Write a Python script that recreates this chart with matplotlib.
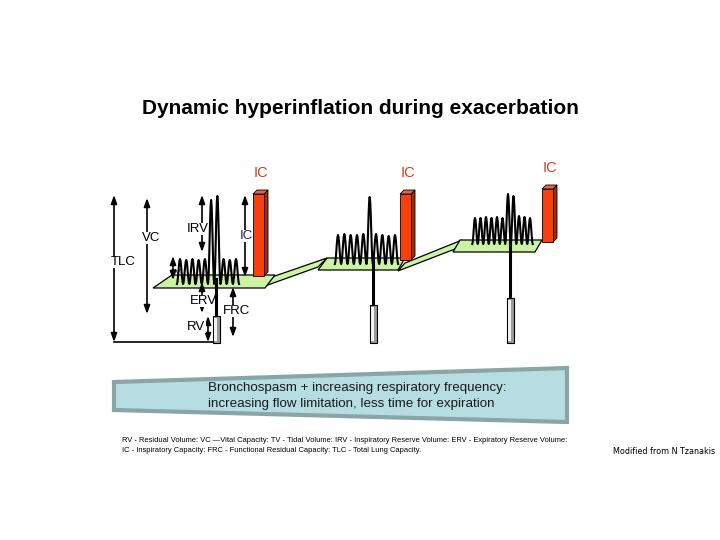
"""
Dynamic hyperinflation during exacerbation - lung volume diagram
"""
import matplotlib.pyplot as plt
from matplotlib.patches import Polygon, Rectangle
import numpy as np

plt.rcParams['font.family'] = ['Liberation Sans', 'DejaVu Sans']

# breath peak heights above FRC for each stage (px in diagram units)
breaths_1 = [25, 24, 25, 24, 25, 84, 88, 25, 24, 25]
breaths_2 = [29, 30, 29, 29, 30, 67, 30, 29, 28, 29]
breaths_3 = [26, 26, 27, 26, 27, 26, 50, 48, 28, 27, 26]

# inspiratory capacity bar heights (shrinking with hyperinflation)
ic_values = [82, 66, 53]
ic_labels = ['IC', 'IC', 'IC']

# level of the end-expiratory drop (top of the RV tube) for each stage
rv_tube_top = [316, 305, 298]

# volume arrows on the first stage: label, x, y top, y bottom
arrow_names = ['TLC', 'VC', 'IRV', 'IC', 'TV', 'ERV', 'FRC', 'RV']
arrow_x = [114, 147, 202, 245, 173, 202, 233, 208]
arrow_top = [195, 198, 195, 195, 256, 282, 287, 316]
arrow_bot = [342, 314, 252, 277, 280, 313, 337, 342]
label_pos = [(123, 262), (151, 238), (198, 229), (246, 236),
             (176, 272), (203, 301), (236, 311), (196, 327)]

title = 'Dynamic hyperinflation during exacerbation'
banner_text = ('Bronchospasm + increasing respiratory frequency:\n'
               'increasing flow limitation, less time for expiration')
foot_1 = ('RV - Residual Volume: VC \u2014Vital Capacity: TV - Tidal Volume: '
          'IRV - Inspiratory Reserve Volume: ERV - Expiratory Reserve Volume:')
foot_2 = ('IC - Inspiratory Capacity: FRC - Functional Residual Capacity: '
          'TLC - Total Lung Capacity.')
credit = 'Modified from N Tzanakis'

# layout of the three stages
stage_base = [284, 264, 244]
stage_span = [(180, 236), (338, 395), (475, 530)]
stage_drop_x = [216, 373, 510]
bar_x = [253, 400, 542]
bar_bottom = [276, 260, 242]
platforms = [
    [(153, 288), (172, 275), (275, 275), (265, 288)],
    [(318, 270), (327, 258), (405, 258), (398, 270)],
    [(453, 252), (460, 240), (542, 240), (535, 252)],
]
ramps = [
    [(265, 286), (272, 277), (327, 258), (318, 267)],
    [(398, 271), (405, 263), (462, 240), (455, 249)],
]

GREEN = '#ccf2a4'
RED_FRONT = '#f8400f'
RED_TOP = '#e2664a'
RED_SIDE = '#a82a0e'

fig = plt.figure(figsize=(7.2, 5.4), dpi=100)
ax = fig.add_axes([0, 0, 1, 1])
ax.set_xlim(0, 720)
ax.set_ylim(540, 0)
ax.axis('off')


def draw_trace(heights, base, span, z=4):
    # each breath drawn as one sine cycle, trough to trough
    n = len(heights)
    xs = np.linspace(span[0], span[1], n)
    hw = (xs[1] - xs[0]) / 2
    t = np.linspace(-1, 1, 13)
    px, py = [], []
    for x, h in zip(xs, heights):
        px += list(x + hw * t)
        py += list(base - h * (1 + np.cos(np.pi * t)) / 2)
    ax.plot(px, py, color='black', lw=1.5, zorder=z, solid_joinstyle='round')


def draw_bar(x, bottom, h, w=11, d=4):
    top = bottom - h
    ax.add_patch(Polygon([(x + w, bottom), (x + w + d, bottom - d),
                          (x + w + d, top - d), (x + w, top)],
                         fc=RED_SIDE, ec='black', lw=0.6, zorder=6))
    ax.add_patch(Polygon([(x, top), (x + d, top - d), (x + w + d, top - d),
                          (x + w, top)],
                         fc=RED_TOP, ec='black', lw=0.6, zorder=6))
    ax.add_patch(Rectangle((x, top), w, h, fc=RED_FRONT, ec='black',
                           lw=0.6, zorder=6))


def draw_tube(x, top, bottom=343, w=7):
    ax.add_patch(Rectangle((x - w / 2, top), w, bottom - top, fc='#9a9a9a',
                           ec='black', lw=0.8, zorder=5))
    ax.add_patch(Rectangle((x - w / 2 + 1.5, top + 2), w - 4, bottom - top - 4,
                           fc='#f2f2f2', ec='none', zorder=5))


# platforms and ramps
for pts in ramps:
    ax.add_patch(Polygon(pts, fc=GREEN, ec='black', lw=0.9, zorder=2))
for pts in platforms:
    ax.add_patch(Polygon(pts, fc=GREEN, ec='black', lw=0.9, zorder=2))

# breathing traces
all_breaths = [breaths_1, breaths_2, breaths_3]
for i in range(3):
    draw_trace(all_breaths[i], stage_base[i], stage_span[i])
    ax.plot([stage_drop_x[i], stage_drop_x[i]],
            [stage_base[i] - 5, rv_tube_top[i]],
            color='black', lw=2.2, zorder=4)
    draw_tube(stage_drop_x[i], rv_tube_top[i])
    draw_bar(bar_x[i], bar_bottom[i], ic_values[i])
    ax.text(bar_x[i] + 8, bar_bottom[i] - ic_values[i] - 21, ic_labels[i],
            color='#c8431c', fontsize=10.5, ha='center', va='center')

# volume arrows
for name, x, y0, y1, pos in zip(arrow_names, arrow_x, arrow_top,
                                arrow_bot, label_pos):
    ax.annotate('', xy=(x, y0), xytext=(x, y1),
                arrowprops=dict(arrowstyle='<|-|>,head_length=0.5,head_width=0.18',
                                color='black', lw=1.2, shrinkA=0, shrinkB=0),
                zorder=3)
    col = '#1c1c80' if name == 'IC' else 'black'
    fs = 6 if name == 'TV' else 9.5
    ax.text(pos[0], pos[1], name, color=col, fontsize=fs, ha='center',
            va='center', zorder=3,
            bbox=dict(fc='white', ec='none', pad=0.3) if name != 'TV' else None)
ax.plot([114, 214], [342, 342], color='black', lw=1.2, zorder=3)

# title
ax.text(360, 109, title, fontsize=15, fontweight='bold', ha='center',
        va='center')

# banner
ax.add_patch(Polygon([(114, 382), (567, 368), (567, 422), (114, 410)],
                     fc='#b5dde2', ec='#8aa5a6', lw=3, joinstyle='miter'))
ax.text(208, 396, banner_text, fontsize=9.6, ha='left', va='center',
        linespacing=1.35, color='#1a1a1a')

# footnotes
ax.text(122, 441, foot_1, fontsize=5.4, ha='left', va='center')
ax.text(122, 450, foot_2, fontsize=5.4, ha='left', va='center')
ax.text(664, 451, credit, fontsize=5.75, ha='center', va='center',
        family='DejaVu Sans')

fig.savefig('out.png', dpi=100)
